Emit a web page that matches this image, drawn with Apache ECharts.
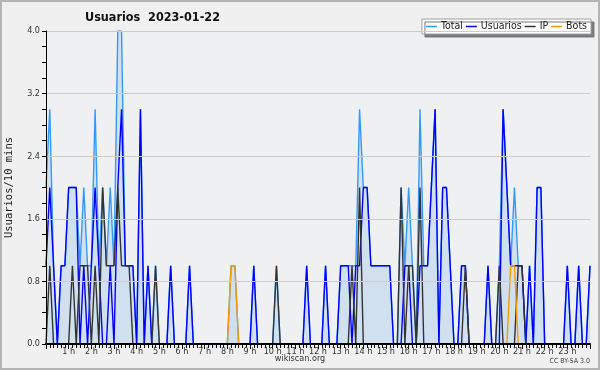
<!DOCTYPE html>
<html>
<head>
<meta charset="utf-8">
<script src="https://cdn.jsdelivr.net/npm/echarts@6/dist/echarts.min.js"></script>
<style>
html,body{margin:0;padding:0;background:#f0f0f0;}
#wrap{position:relative;width:600px;height:370px;}
#chart{width:600px;height:370px;}
#frame{position:absolute;left:0;top:0;width:600px;height:370px;box-sizing:border-box;border:2px solid #b4b4b4;pointer-events:none;}
</style>
</head>
<body>
<div id="wrap"><div id="chart"></div><div id="frame"></div></div>
<script>
// one value per 10-minute slot, slot 0 = 00:00 ... slot 144 = 24:00
const total = [
 2,3,1,0,1,1,2,2,2,1,
 2,1,1,3,1,2,1,2,1,4,
 4,1,1,1,0,3,0,1,0,1,
 0,0,0,1,0,0,0,0,1,0,
 0,0,0,0,0,0,0,0,0,1,
 1,0,0,0,0,1,0,0,0,0,
 0,1,0,0,0,0,0,0,0,1,
 0,0,0,0,1,0,0,0,1,1,
 1,1,1,3,2,2,1,1,1,1,
 1,1,0,0,2,1,2,1,0,3,
 1,1,2,3,0,2,2,1,0,0,
 1,1,0,0,0,0,0,1,0,0,
 1,3,2,1,2,1,1,0,1,0,
 2,2,0,0,0,0,0,0,1,0,
 0,1,0,0,1
];
const usuarios = [
 1,2,1,0,1,1,2,2,2,0,
 1,0,1,2,1,0,0,1,0,2,
 3,1,1,1,0,3,0,1,0,0,
 0,0,0,1,0,0,0,0,1,0,
 0,0,0,0,0,0,0,0,0,0,
 0,0,0,0,0,1,0,0,0,0,
 0,0,0,0,0,0,0,0,0,1,
 0,0,0,0,1,0,0,0,1,1,
 1,0,1,1,2,2,1,1,1,1,
 1,1,0,0,0,1,1,0,0,1,
 1,1,2,3,0,2,2,1,0,0,
 1,1,0,0,0,0,0,1,0,0,
 0,3,2,1,1,1,1,0,1,0,
 2,2,0,0,0,0,0,0,1,0,
 0,1,0,0,1
];
const ip = [
 0,1,0,0,0,0,0,1,0,1,
 1,1,0,1,0,2,1,1,1,2,
 1,1,1,0,0,0,0,0,0,1,
 0,0,0,0,0,0,0,0,0,0,
 0,0,0,0,0,0,0,0,0,0,
 0,0,0,0,0,0,0,0,0,0,
 0,1,0,0,0,0,0,0,0,0,
 0,0,0,0,0,0,0,0,0,0,
 0,1,0,2,0,0,0,0,0,0,
 0,0,0,0,2,0,1,1,0,2,
 0,0,0,0,0,0,0,0,0,0,
 0,1,0,0,0,0,0,0,0,0,
 1,0,0,0,0,1,1,0,0,0,
 0,0,0,0,0,0,0,0,0,0,
 0,0,0,0,0
];
const bots = [
 0,0,0,0,0,0,0,0,0,0,
 0,0,0,0,0,0,0,0,0,0,
 0,0,0,0,0,0,0,0,0,0,
 0,0,0,0,0,0,0,0,0,0,
 0,0,0,0,0,0,0,0,0,1,
 1,0,0,0,0,0,0,0,0,0,
 0,0,0,0,0,0,0,0,0,0,
 0,0,0,0,0,0,0,0,0,0,
 0,0,0,0,0,0,0,0,0,0,
 0,0,0,0,0,0,0,0,0,0,
 0,0,0,0,0,0,0,0,0,0,
 0,0,0,0,0,0,0,0,0,0,
 0,0,0,1,1,0,0,0,0,0,
 0,0,0,0,0,0,0,0,0,0,
 0,0,0,0,0
];
const seriesNames = ['Total','Usuarios','IP','Bots'];
const titleText = 'Usuarios  2023-01-22';
const yAxisName = 'Usuarios/10 mins';

const COND = "'DejaVu Sans Condensed','Liberation Sans Narrow','DejaVu Sans'";
const pairs = arr => arr.map((v,i)=>[i,v]);
const chart = echarts.init(document.getElementById('chart'), null, {renderer:'canvas'});
const lineCommon = {type:'line', showSymbol:false, symbol:'none', animation:false};
chart.setOption({
  backgroundColor:'#f0f0f0',
  animation:false,
  title:{text:titleText, left:80, top:6, textStyle:{fontFamily:COND, fontSize:12.5, fontWeight:'bold', color:'#111'}},
  legend:{
    data:seriesNames, right:9, top:19, orient:'horizontal',
    backgroundColor:'#ffffff', borderColor:'#a0a0a0', borderWidth:1,
    shadowColor:'#7a7a7a', shadowOffsetX:3, shadowOffsetY:3, shadowBlur:0,
    padding:[2,4,2,4], itemGap:3, itemWidth:11, itemHeight:1.5, icon:'rect',
    textStyle:{fontFamily:COND, fontSize:10.5, color:'#222', padding:[0,0,0,-1]}
  },
  grid:{left:46, right:10, top:31, bottom:26, containLabel:false, outerBoundsMode:'none',
        show:true, backgroundColor:'#eff0f2', borderWidth:0},
  xAxis:{
    type:'value', min:0, max:144, interval:6, z:10,
    axisLine:{lineStyle:{color:'#000', width:2}},
    axisTick:{show:true, length:5, lineStyle:{color:'#000'}},
    minorTick:{show:true, splitNumber:6, length:4, lineStyle:{color:'#000'}},
    splitLine:{show:false},
    axisLabel:{fontFamily:COND, fontSize:9, color:'#333', margin:3,
      formatter:v=>(v===0||v===144)?'':(v/6)+' h'}
  },
  yAxis:{
    type:'value', min:0, max:4, interval:0.8, z:10,
    name:yAxisName, nameLocation:'middle', nameGap:31, nameRotate:90,
    nameTextStyle:{fontFamily:'DejaVu Sans Mono', fontSize:10.5, color:'#222'},
    axisLine:{show:true, lineStyle:{color:'#000', width:1}},
    axisTick:{show:true, length:4, lineStyle:{color:'#000'}},
    minorTick:{show:true, splitNumber:4, length:4, lineStyle:{color:'#000'}},
    splitLine:{show:true, lineStyle:{color:'#cccccc', width:1}},
    axisLabel:{fontFamily:COND, fontSize:9, color:'#333', margin:6,
      formatter:v=>v.toFixed(1)}
  },
  graphic:[
    {type:'text', left:'center', top:354, style:{text:'wikiscan.org', fontFamily:COND, fontSize:9, fill:'#333'}},
    {type:'text', right:10, top:358, style:{text:'CC BY-SA 3.0', fontFamily:COND, fontSize:7, fill:'#444'}}
  ],
  series:[
    Object.assign({}, lineCommon, {name:'Total', data:pairs(total), z:1,
      lineStyle:{color:'#3399ff', width:1.4}, itemStyle:{color:'#3399ff'},
      areaStyle:{color:'rgba(0,110,220,0.18)'}}),
    Object.assign({}, lineCommon, {name:'Usuarios', data:pairs(usuarios), z:2,
      lineStyle:{color:'#0000ff', width:1.4}, itemStyle:{color:'#0000ff'}}),
    Object.assign({}, lineCommon, {name:'IP', data:pairs(ip), z:3,
      lineStyle:{color:'#333333', width:1.4}, itemStyle:{color:'#333333'}}),
    Object.assign({}, lineCommon, {name:'Bots', data:pairs(bots), z:4,
      lineStyle:{color:'#ff9900', width:1.4}, itemStyle:{color:'#ff9900'}})
  ]
});
</script>
</body>
</html>
